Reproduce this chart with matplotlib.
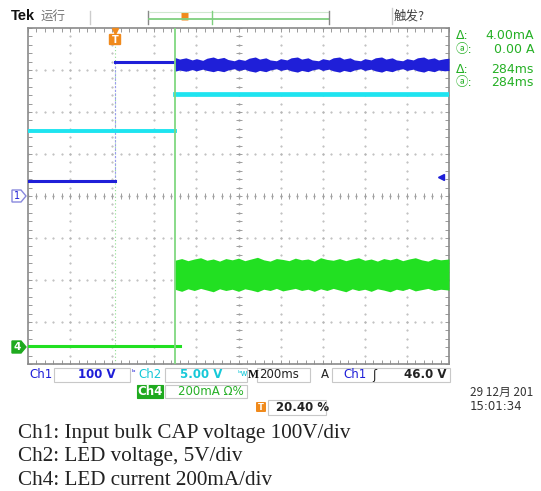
import matplotlib
matplotlib.use("Agg")
import matplotlib.pyplot as plt
from matplotlib.patches import Rectangle, FancyBboxPatch, Polygon
import numpy as np

# ---------------- data (time in ms, amplitude in divisions) ----------------
trigger_ms = 413
cursor_ms = 697

ch1_low_t = [0, 413]
ch1_low_v = [0.36, 0.36]
ch1_high_t = [413, 697]
ch1_high_v = [3.19, 3.19]

ch1_band_t = [697, 720, 750, 780, 800, 830, 850, 880, 900, 930, 950, 980, 1000, 1030, 1050,
              1080, 1100, 1130, 1150, 1180, 1200, 1230, 1250, 1280, 1300, 1330, 1350, 1380,
              1400, 1430, 1450, 1480, 1500, 1530, 1550, 1580, 1600, 1630, 1650, 1680, 1700,
              1730, 1750, 1780, 1800, 1830, 1850, 1880, 1900, 1930, 1950, 1980, 2000]
ch1_band_hi = [3.30, 3.26, 3.29, 3.24, 3.27, 3.23, 3.28, 3.31, 3.27, 3.30, 3.25, 3.22, 3.26,
               3.23, 3.28, 3.31, 3.26, 3.29, 3.24, 3.22, 3.27, 3.24, 3.29, 3.31, 3.26, 3.29,
               3.24, 3.22, 3.27, 3.24, 3.29, 3.31, 3.26, 3.29, 3.24, 3.22, 3.27, 3.24, 3.29,
               3.31, 3.26, 3.29, 3.24, 3.22, 3.27, 3.24, 3.29, 3.31, 3.26, 3.29, 3.24, 3.27, 3.28]
ch1_band_lo = [2.97, 3.00, 2.97, 3.01, 2.98, 3.02, 2.99, 2.96, 2.99, 2.96, 3.00, 3.03, 2.99,
               3.02, 2.98, 2.95, 2.99, 2.96, 3.00, 3.03, 2.99, 3.02, 2.98, 2.95, 2.99, 2.96,
               3.00, 3.03, 2.99, 3.02, 2.98, 2.95, 2.99, 2.96, 3.00, 3.03, 2.99, 3.02, 2.98,
               2.95, 2.99, 2.96, 3.00, 3.03, 2.99, 3.02, 2.98, 2.95, 2.99, 2.96, 3.00, 2.98, 2.99]

ch2_pre_t = [0, 697]
ch2_pre_v = [1.55, 1.55]
ch2_post_t = [697, 2000]
ch2_post_v = [2.43, 2.43]

ch4_pre_t = [0, 722]
ch4_pre_v = [-3.57, -3.57]
ch4_band_t = [697, 730, 760, 790, 820, 850, 880, 910, 940, 970, 1000, 1030, 1060, 1090, 1120,
              1150, 1180, 1210, 1240, 1270, 1300, 1330, 1360, 1390, 1420, 1450, 1480, 1510,
              1540, 1570, 1600, 1630, 1660, 1690, 1720, 1750, 1780, 1810, 1840, 1870, 1900,
              1930, 1960, 2000]
ch4_band_hi = [-1.53, -1.49, -1.54, -1.50, -1.47, -1.53, -1.50, -1.55, -1.49, -1.52, -1.48,
               -1.54, -1.50, -1.46, -1.52, -1.55, -1.49, -1.51, -1.54, -1.48, -1.52, -1.50,
               -1.55, -1.47, -1.51, -1.53, -1.49, -1.54, -1.50, -1.47, -1.53, -1.50, -1.55,
               -1.49, -1.52, -1.48, -1.54, -1.50, -1.47, -1.52, -1.55, -1.49, -1.52, -1.50]
ch4_band_lo = [-2.22, -2.27, -2.21, -2.25, -2.20, -2.24, -2.28, -2.21, -2.25, -2.22, -2.27,
               -2.21, -2.24, -2.28, -2.22, -2.25, -2.20, -2.26, -2.23, -2.20, -2.25, -2.22,
               -2.27, -2.21, -2.25, -2.20, -2.24, -2.28, -2.21, -2.25, -2.22, -2.27, -2.21,
               -2.24, -2.28, -2.22, -2.25, -2.20, -2.26, -2.23, -2.20, -2.25, -2.22, -2.24]

caption_lines = ["Ch1: Input bulk CAP voltage 100V/div",
                 "Ch2: LED voltage, 5V/div",
                 "Ch4: LED current 200mA/div"]

C1 = "#1f1fd8"
C2 = "#1ee4f0"
C4 = "#22e022"
CUR = "#80d880"
TXTG = "#25b025"
ORANGE = "#f08a1c"
GRID = "#b4b4b4"

W, H = 541, 491
fig = plt.figure(figsize=(W / 100, H / 100), dpi=100)
fig.patch.set_facecolor("white")

# ---------------- scope graticule axes ----------------
L, R, T, B = 28, 449, 28, 364
ax = fig.add_axes([L / W, 1 - B / H, (R - L) / W, (B - T) / H])
ax.set_xlim(0, 2000)
ax.set_ylim(-4, 4)
for s in ax.spines.values():
    s.set_color("#8a8a8a")
    s.set_linewidth(1.2)
ax.set_xticks(np.arange(0, 2001, 40))
ax.set_yticks(np.arange(-4, 4.01, 0.2))
ax.tick_params(axis="both", which="both", direction="in", length=3, width=0.7,
               color="#999999", top=True, right=True, labelbottom=False, labelleft=False)

# dotted grid
ydots = np.arange(-4, 4.01, 0.2)
xdots = np.arange(0, 2001, 40)
for k in range(1, 10):
    if k == 5:
        continue
    ax.plot(np.full_like(ydots, 200 * k), ydots, ls="none", marker=".", ms=1.0, color=GRID, zorder=1)
for k in range(-3, 4):
    if k == 0:
        continue
    ax.plot(xdots, np.full_like(xdots, k, dtype=float), ls="none", marker=".", ms=1.0, color=GRID, zorder=1)
# center cross lines with ticks
ax.plot(np.full_like(ydots, 1000), ydots, ls="none", marker="_", ms=4, mew=0.7, color="#a0a0a0", zorder=1)
ax.plot(xdots, np.zeros_like(xdots, dtype=float), ls="none", marker="|", ms=4, mew=0.7, color="#a0a0a0", zorder=1)
ax.plot(np.full_like(ydots, 1000), ydots, ls="none", marker=".", ms=1.2, color="#a0a0a0", zorder=1)
ax.plot(xdots, np.zeros_like(xdots, dtype=float), ls="none", marker=".", ms=1.2, color="#a0a0a0", zorder=1)

# trigger position dotted line
ax.plot([trigger_ms, trigger_ms], [-4, 4], ls=(0, (1, 2)), lw=0.8, color="#8fdc8f", zorder=2)
# ch1 rising edge (faint)
ax.plot([trigger_ms, trigger_ms], [ch1_low_v[0], ch1_high_v[0]], ls=(0, (2, 1.5)), lw=0.8,
        color="#9a9af0", zorder=3)

# traces
ax.plot(ch2_pre_t, ch2_pre_v, color=C2, lw=2.8, zorder=3)
ax.plot(ch2_post_t, ch2_post_v, color=C2, lw=3.4, zorder=3)
ax.plot(ch1_low_t, ch1_low_v, color=C1, lw=2.2, zorder=4)
ax.plot(ch1_high_t, ch1_high_v, color=C1, lw=2.2, zorder=4)
ax.fill_between(ch1_band_t, ch1_band_lo, ch1_band_hi, color=C1, lw=0, zorder=4)
ax.plot(ch4_pre_t, ch4_pre_v, color=C4, lw=2.2, zorder=4)
ax.fill_between(ch4_band_t, ch4_band_lo, ch4_band_hi, color=C4, lw=0, zorder=4)

# cursor line
ax.plot([cursor_ms, cursor_ms], [-4, 4], color=CUR, lw=1.3, zorder=5)

# trigger level arrow (right side)
ax.plot([1960], [0.45], marker="<", ms=5, color=C1, zorder=6, clip_on=False)

# ---------------- overlay in pixel coordinates ----------------
ov = fig.add_axes([0, 0, 1, 1])
ov.set_xlim(0, W)
ov.set_ylim(H, 0)
ov.axis("off")
ov.patch.set_alpha(0)

cjk = ["Noto Sans CJK SC", "DejaVu Sans"]

# top bar
ov.text(11, 16, "Tek", fontsize=10.5, fontweight="bold", color="#111111",
        family="Liberation Sans", va="center")
ov.text(41, 16, "运行", fontsize=9, color="#777777", family=cjk, va="center")
ov.plot([90, 90], [11, 24], color="#cccccc", lw=1)
ov.plot([148, 148], [11, 24], color="#888888", lw=1)
ov.plot([149, 329], [19, 19], color="#7fd07f", lw=1.3)
ov.plot([149, 329], [12, 12], color="#cfe8cf", lw=0.8)
ov.plot([329, 329], [11, 24], color="#888888", lw=1)
ov.plot([212, 212], [11, 24], color="#7fd07f", lw=1)
ov.add_patch(FancyBboxPatch((182, 13), 6, 7, boxstyle="round,pad=0.5", fc=ORANGE, ec=ORANGE, lw=0))
ov.plot([392, 392], [8, 24], color="#cccccc", lw=1)
ov.text(394, 16, "触发?", fontsize=9, color="#444444", family=cjk, va="center")

# trigger 'T' marker on graticule
ov.plot([115], [31], marker="v", ms=5, color=ORANGE)
ov.add_patch(FancyBboxPatch((110, 35), 10, 9, boxstyle="round,pad=1.2", fc=ORANGE, ec=ORANGE, lw=0))
ov.text(115, 40, "T", fontsize=7, fontweight="bold", color="white", ha="center", va="center")

# channel ground markers
ov.add_patch(Polygon([[12, 190], [21, 190], [26, 196], [21, 202], [12, 202]], closed=True,
                     fc="white", ec="#8888dd", lw=1))
ov.text(17, 196, "1", fontsize=7, color=C1, ha="center", va="center")
ov.add_patch(Polygon([[12, 341], [21, 341], [26, 347], [21, 353], [12, 353]], closed=True,
                     fc="#1faa1f", ec="#1faa1f", lw=1))
ov.text(17.5, 347, "4", fontsize=7.5, color="white", fontweight="bold", ha="center", va="center")

# cursor readouts
ro = [("Δ:", "4.00mA", 35), ("ⓐ:", "0.00 A", 49), ("Δ:", "284ms", 69), ("ⓐ:", "284ms", 82)]
for lab, val, y in ro:
    ov.text(456, y, lab, fontsize=9, color=TXTG, family=["DejaVu Sans", "Noto Sans CJK SC"], va="center")
    ov.text(534, y, val, fontsize=9, color=TXTG, ha="right", va="center")

# status bar
def box(x0, x1, y0, y1, fc="white", ec="#c8c8c8"):
    ov.add_patch(Rectangle((x0, y0), x1 - x0, y1 - y0, fc=fc, ec=ec, lw=0.8))

fs = 8.5
ov.text(29, 375, "Ch1", fontsize=fs, color=C1, va="center")
box(54, 130, 368, 382)
ov.text(116, 375, "100 V", fontsize=fs, color=C1, va="center", ha="right", fontweight="bold")
ov.text(131, 373, "ᵇ", fontsize=6, color=C1, va="center")
ov.text(138, 375, "Ch2", fontsize=fs, color="#16c8d8", va="center")
box(165, 247, 368, 382)
ov.text(222, 375, "5.00 V", fontsize=fs, color="#16c8d8", va="center", ha="right", fontweight="bold")
ov.text(238, 373, "ᵇw", fontsize=6, color="#16c8d8", va="center")
ov.text(248, 375, "M", fontsize=fs, color="#111111", va="center", fontweight="bold",
        family="Liberation Serif")
box(257, 310, 368, 382)
ov.text(259, 375, "200ms", fontsize=fs, color="#222222", va="center")
ov.text(321, 375, "A", fontsize=fs, color="#222222", va="center")
box(332, 450, 368, 382)
ov.text(343, 375, "Ch1", fontsize=fs, color=C1, va="center")
ov.text(372, 375, "ʃ", fontsize=fs, color="#222222", va="center")
ov.text(447, 375, "46.0 V", fontsize=fs, color="#222222", va="center", ha="right", fontweight="bold")

box(137, 163, 385, 398, fc="#1faa1f", ec="#1faa1f")
ov.text(150, 391.5, "Ch4", fontsize=fs, color="white", va="center", ha="center", fontweight="bold")
box(165, 247, 385, 398)
ov.text(178, 391.5, "200mA Ω%", fontsize=fs, color=TXTG, va="center")

ov.add_patch(FancyBboxPatch((257, 403), 8, 8, boxstyle="round,pad=1", fc=ORANGE, ec=ORANGE, lw=0))
ov.text(261, 407.5, "T", fontsize=6, fontweight="bold", color="white", ha="center", va="center")
box(268, 326, 400, 415)
ov.text(276, 407.5, "20.40 %", fontsize=fs, color="#222222", va="center", fontweight="bold")

ov.text(470, 392, "29 12月 201", fontsize=8.5, color="#333333", family=cjk, va="center")
ov.text(470, 406, "15:01:34", fontsize=8.5, color="#333333", va="center")

# caption
for i, line in enumerate(caption_lines):
    ov.text(18, 438 + 23.5 * i, line, fontsize=15.2, color="#222222",
            family="Liberation Serif", va="baseline")

fig.savefig("out.png", dpi=100)
